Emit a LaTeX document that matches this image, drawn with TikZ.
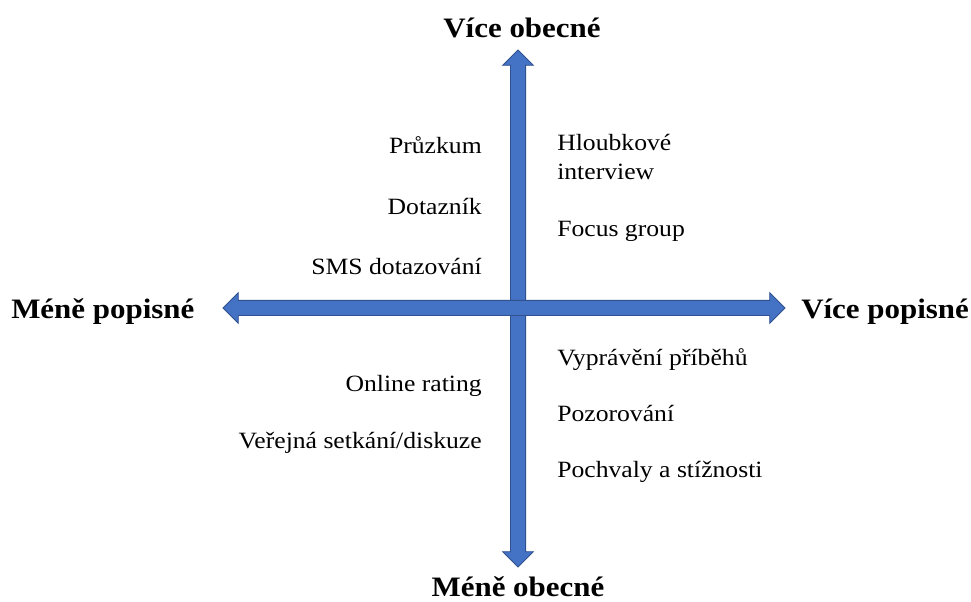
\documentclass[tikz,border=0pt]{standalone}
\usepackage{fontspec}
\setmainfont{Liberation Serif}[FakeStretch=1.1]
\usetikzlibrary{shapes.arrows}

\definecolor{axisfill}{HTML}{4472C4}
\definecolor{axisline}{HTML}{2F528F}

\begin{document}
\begin{tikzpicture}[
		x=0.75pt, y=-0.75pt,
		axis/.style={double arrow, fill=axisfill, draw=axisline, line width=0.6pt, inner sep=5.4pt, double arrow head extend=5.8pt, double arrow tip angle=90},
		axislabel/.style={inner sep=0pt, font=\fontsize{21.1}{26}\selectfont\bfseries},
		method/.style={inner sep=0pt, font=\fontsize{17.5}{21.75}\selectfont}
		]
		\useasboundingbox (0,0) rectangle (971,602);
		% Axes
		\node (vaxis) [axis, minimum height=387.75pt, rotate=90] at (518,308.5) {};
		\node (haxis) [axis, minimum height=421.5pt] at (504,308) {};
		
		% Axis labels
		\node (top) [axislabel, anchor=base] at (522,38) {Více obecné};
		\node (bottom) [axislabel, anchor=base] at (518,596) {Méně obecné};
		\node (left) [axislabel, anchor=base west] at (11,319) {Méně popisné};
		\node (right) [axislabel, anchor=base west] at (801,319) {Více popisné};
		
		% Methods, upper left
		\node (m1) [method, anchor=base east] at (482,154) {Průzkum};
		\node (m2) [method, anchor=base east] at (482,215) {Dotazník};
		\node (m3) [method, anchor=base east] at (482,275) {SMS dotazování};
		% Methods, upper right
		\node (m4) [method, anchor=north west, align=left] at (557,134) {Hloubkové\\interview};
		\node (m5) [method, anchor=base west] at (557,237) {Focus group};
		% Methods, lower left
		\node (m6) [method, anchor=base east] at (482,391) {Online rating};
		\node (m7) [method, anchor=base east] at (482,448) {Veřejná setkání/diskuze};
		% Methods, lower right
		\node (m8) [method, anchor=base west] at (557,365) {Vyprávění příběhů};
		\node (m9) [method, anchor=base west] at (557,421) {Pozorování};
		\node (m10) [method, anchor=base west] at (557,477) {Pochvaly a stížnosti};
		
	\end{tikzpicture}
\end{document}
